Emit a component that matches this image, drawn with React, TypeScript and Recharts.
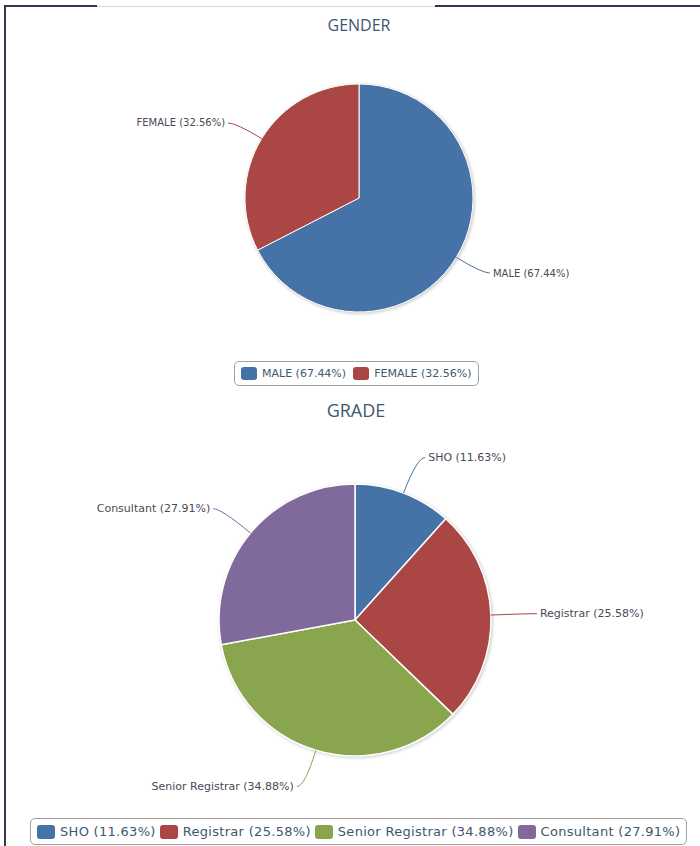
import React from "react";
import { PieChart, Pie, Cell, Legend } from "recharts";

// counts out of 43 respondents
const genderNames = ["MALE", "FEMALE"];
const genderCounts = [29, 14];

const gradeNames = ["SHO", "Registrar", "Senior Registrar", "Consultant"];
const gradeCounts = [5, 11, 15, 12];

const COLORS = ["#4572A7", "#AA4643", "#89A54E", "#80699B"];
const RADIAN = Math.PI / 180;
const labelFont = "'DejaVu Sans', Verdana, sans-serif";

// full disc drawn under each pie as its drop shadow
const shadowDisc = [{ name: "shadow", value: 1 }];

function withPct(names: string[], counts: number[]) {
  const total = counts.reduce((s, v) => s + v, 0);
  return names.map((n, i) => ({
    name: `${n} (${((counts[i] / total) * 100).toFixed(2)}%)`,
    value: counts[i],
    fill: COLORS[i],
  }));
}

const genderData = withPct(genderNames, genderCounts);
const gradeData = withPct(gradeNames, gradeCounts);

function makeLabel(fontSize: number, dist: number) {
  return (props: any) => {
    const { cx, cy, midAngle, outerRadius, name, index } = props;
    const cos = Math.cos(-midAngle * RADIAN);
    const sin = Math.sin(-midAngle * RADIAN);
    const sx = cx + outerRadius * cos;
    const sy = cy + outerRadius * sin;
    const mx = cx + (outerRadius + dist) * cos;
    const my = cy + (outerRadius + dist) * sin;
    const right = cos >= 0;
    const ex = mx + (right ? 8 : -8);
    const color = COLORS[index % COLORS.length];
    return (
      <g>
        <path
          d={`M${sx},${sy} Q${mx},${my} ${ex},${my}`}
          stroke={color}
          fill="none"
          strokeWidth={1}
        />
        <text
          x={ex + (right ? 3 : -3)}
          y={my}
          textAnchor={right ? "start" : "end"}
          dominantBaseline="central"
          fontSize={fontSize}
          fontFamily={labelFont}
          fill="#4a4a55"
        >
          {name}
        </text>
      </g>
    );
  };
}

// keep series order (recharts payload comes back sorted by name)
function LegendBox({
  items,
  fontSize,
  sw,
  sh,
  gap,
  spacing = 0,
}: {
  items: { name: string }[];
  fontSize: number;
  sw: number;
  sh: number;
  gap: number;
  spacing?: number;
}) {
  return (
    <div
      style={{
        display: "flex",
        alignItems: "center",
        border: "1px solid #a0a0a0",
        borderRadius: 5,
        padding: "5px 6px",
        background: "#fff",
        whiteSpace: "nowrap",
      }}
    >
      {items.map((d, i) => (
        <span key={d.name} style={{ display: "flex", alignItems: "center", marginRight: i < items.length - 1 ? gap : 0 }}>
          <span
            style={{
              display: "inline-block",
              width: sw,
              height: sh,
              borderRadius: 3,
              background: COLORS[i],
              marginRight: 5,
            }}
          />
          <span style={{ fontFamily: labelFont, fontSize, color: "#3E576F", letterSpacing: spacing }}>{d.name}</span>
        </span>
      ))}
    </div>
  );
}

const titleStyle: React.CSSProperties = {
  position: "absolute",
  fontFamily: "'Open Sans', sans-serif",
  color: "#3E576F",
  textAlign: "center",
};

const noMargin = { top: 0, right: 0, bottom: 0, left: 0 };

export default function App() {
  return (
    <div style={{ position: "absolute", left: 0, top: 0, width: 700, height: 846, background: "#fff", overflow: "hidden" }}>
      <style>{`.pie-shadow path { filter: blur(1.5px); }`}</style>

      <div style={{ ...titleStyle, left: 259, top: 14, width: 200, fontSize: 16 }}>GENDER</div>
      <div style={{ position: "absolute", left: 0, top: 0 }}>
        <PieChart width={700} height={395} margin={noMargin}>
          <Pie
            className="pie-shadow"
            data={shadowDisc}
            dataKey="value"
            cx={360}
            cy={199}
            outerRadius={115}
            fill="#000"
            fillOpacity={0.18}
            stroke="none"
            legendType="none"
            isAnimationActive={false}
          />
          <Pie
            data={genderData}
            dataKey="value"
            nameKey="name"
            cx={359}
            cy={198}
            outerRadius={114}
            startAngle={90}
            endAngle={-270}
            stroke="#fff"
            strokeWidth={1}
            label={makeLabel(10, 30)}
            labelLine={false}
            isAnimationActive={false}
          >
            {genderData.map((d, i) => (
              <Cell key={d.name} fill={COLORS[i]} />
            ))}
          </Pie>
          <Legend
            wrapperStyle={{ position: "absolute", left: 234, top: 361, width: "auto" }}
            content={() => <LegendBox items={genderData} fontSize={11} sw={16} sh={13} gap={7} />}
          />
        </PieChart>
      </div>

      <div style={{ ...titleStyle, left: 256, top: 398, width: 200, fontSize: 18 }}>GRADE</div>
      <div style={{ position: "absolute", left: 0, top: 395 }}>
        <PieChart width={700} height={451} margin={noMargin}>
          <Pie
            className="pie-shadow"
            data={shadowDisc}
            dataKey="value"
            cx={356}
            cy={226}
            outerRadius={137}
            fill="#000"
            fillOpacity={0.18}
            stroke="none"
            legendType="none"
            isAnimationActive={false}
          />
          <Pie
            data={gradeData}
            dataKey="value"
            nameKey="name"
            cx={355}
            cy={225}
            outerRadius={136}
            startAngle={90}
            endAngle={-270}
            stroke="#fff"
            strokeWidth={1.5}
            label={makeLabel(11, 38)}
            labelLine={false}
            isAnimationActive={false}
          >
            {gradeData.map((d, i) => (
              <Cell key={d.name} fill={COLORS[i]} />
            ))}
          </Pie>
          <Legend
            wrapperStyle={{ position: "absolute", left: 30, top: 423, width: "auto" }}
            content={() => <LegendBox items={gradeData} fontSize={13} sw={18} sh={14} gap={4} spacing={0.3} />}
          />
        </PieChart>
      </div>

      {/* frame */}
      <div style={{ position: "absolute", zIndex: 5, left: 4, top: 5, width: 2, height: 841, background: "#3f3054" }} />
      <div style={{ position: "absolute", zIndex: 5, left: 4, top: 5, width: 93, height: 2, background: "#3f3054" }} />
      <div style={{ position: "absolute", zIndex: 5, left: 97, top: 6, width: 338, height: 1, background: "#d8d8d8" }} />
      <div style={{ position: "absolute", zIndex: 5, left: 435, top: 5, width: 265, height: 2, background: "#3f3054" }} />
    </div>
  );
}
